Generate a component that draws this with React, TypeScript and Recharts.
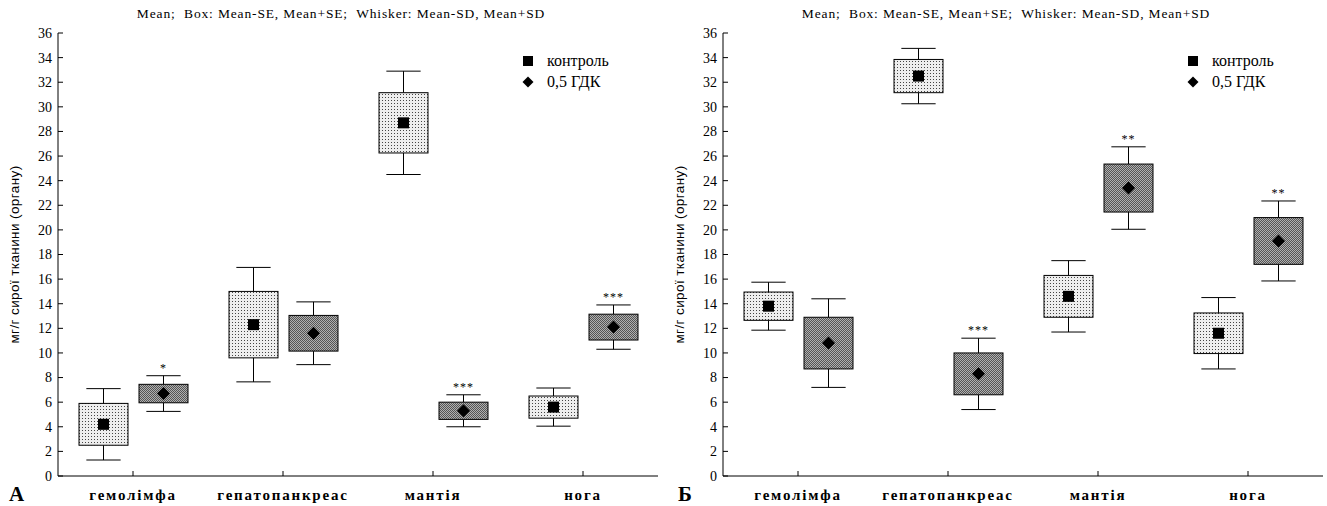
import React from "react";
import { ComposedChart, Bar, XAxis, YAxis, Legend } from "recharts";

const SERIF = "'Liberation Serif', 'Times New Roman', serif";
const SANS = "'Liberation Sans', Arial, sans-serif";

const categories = ["гемолімфа", "гепатопанкреас", "мантія", "нога"];
const yTicks = [0, 2, 4, 6, 8, 10, 12, 14, 16, 18, 20, 22, 24, 26, 28, 30, 32, 34, 36];
const seriesNames = ["контроль", "0,5 ГДК"];

// panel А
const aControlMean = [4.2, 12.3, 28.7, 5.6];
const aControlSE = [1.7, 2.7, 2.45, 0.9];
const aControlSD = [2.9, 4.65, 4.2, 1.55];
const aDoseMean = [6.7, 11.6, 5.3, 12.1];
const aDoseSE = [0.75, 1.45, 0.7, 1.05];
const aDoseSD = [1.45, 2.55, 1.3, 1.8];
const aDoseMarks = ["*", "", "***", "***"];

// panel Б
const bControlMean = [13.8, 32.5, 14.6, 11.6];
const bControlSE = [1.15, 1.35, 1.7, 1.65];
const bControlSD = [1.95, 2.25, 2.9, 2.9];
const bDoseMean = [10.8, 8.3, 23.4, 19.1];
const bDoseSE = [2.1, 1.7, 1.95, 1.9];
const bDoseSD = [3.6, 2.9, 3.35, 3.25];
const bDoseMarks = ["", "***", "**", "**"];

const TITLE = "Mean;  Box: Mean-SE, Mean+SE;  Whisker: Mean-SD, Mean+SD";

function buildRows(cm: number[], cse: number[], csd: number[], dm: number[], dse: number[], dsd: number[], marks: string[]) {
  return categories.map((cat, i) => ({
    cat,
    control: [cm[i] - cse[i], cm[i] + cse[i]],
    dose: [dm[i] - dse[i], dm[i] + dse[i]],
    controlMean: cm[i],
    controlSE: cse[i],
    controlSD: csd[i],
    doseMean: dm[i],
    doseSE: dse[i],
    doseSD: dsd[i],
    doseMark: marks[i],
  }));
}

const rowsA = buildRows(aControlMean, aControlSE, aControlSD, aDoseMean, aDoseSE, aDoseSD, aDoseMarks);
const rowsB = buildRows(bControlMean, bControlSE, bControlSD, bDoseMean, bDoseSE, bDoseSD, bDoseMarks);

// box = mean±SE from the bar scale, whiskers and mean placed on the same scale
const makeBoxShape = (kind: "control" | "dose", fillId: string) => (props: any) => {
  const { x, y, width, height, payload } = props;
  if (!payload) return null;
  const mean = payload[kind + "Mean"];
  const se = payload[kind + "SE"];
  const sd = payload[kind + "SD"];
  const top = Math.min(y, y + height);
  const h = Math.abs(height);
  const hi = mean + se;
  const k = h / (2 * se);
  const py = (v: number) => top + (hi - v) * k;
  const cx = x + width / 2;
  const capW = width * 0.7;
  const yTop = py(mean + sd);
  const yBot = py(mean - sd);
  const ym = py(mean);
  const mark = kind === "dose" ? payload.doseMark : "";
  return (
    <g>
      <line x1={cx} x2={cx} y1={yTop} y2={top} stroke="#000" />
      <line x1={cx} x2={cx} y1={top + h} y2={yBot} stroke="#000" />
      <line x1={cx - capW / 2} x2={cx + capW / 2} y1={yTop} y2={yTop} stroke="#000" />
      <line x1={cx - capW / 2} x2={cx + capW / 2} y1={yBot} y2={yBot} stroke="#000" />
      <rect x={x} y={top} width={width} height={h} fill={`url(#${fillId})`} stroke="#000" strokeWidth={1} />
      {kind === "control" ? (
        <rect x={cx - 5.5} y={ym - 5.5} width={11} height={11} fill="#000" />
      ) : (
        <polygon points={`${cx},${ym - 6.5} ${cx + 6.5},${ym} ${cx},${ym + 6.5} ${cx - 6.5},${ym}`} fill="#000" />
      )}
      {mark ? (
        <text x={cx} y={yTop - 4} textAnchor="middle" fontFamily={SERIF} fontSize={12} letterSpacing={1} fill="#000">
          {mark}
        </text>
      ) : null}
    </g>
  );
};

function BottomTick(props: any) {
  const { x, y, payload } = props;
  return (
    <g>
      <line x1={x} x2={x} y1={y} y2={y - 5} stroke="#000" />
      <text x={x} y={y + 24} textAnchor="middle" fontFamily={SERIF} fontWeight="bold" fontSize={15} letterSpacing={1.8} fill="#000">
        {payload.value}
      </text>
    </g>
  );
}

function TopTick(props: any) {
  const { x, y } = props;
  return <line x1={x} x2={x} y1={y} y2={y + 5} stroke="#000" />;
}

function LeftTick(props: any) {
  const { x, y, payload } = props;
  return (
    <g>
      <line x1={x} x2={x + 5} y1={y} y2={y} stroke="#000" />
      <text x={x - 6} y={y} dy="0.35em" textAnchor="end" fontFamily={SERIF} fontSize={14} fill="#000">
        {payload.value}
      </text>
    </g>
  );
}

function RightTick(props: any) {
  const { x, y } = props;
  return <line x1={x} x2={x - 5} y1={y} y2={y} stroke="#000" />;
}

function renderLegend(props: any) {
  const items = [...(props.payload || [])].sort(
    (a: any, b: any) => seriesNames.indexOf(a.value) - seriesNames.indexOf(b.value)
  );
  return (
    <div style={{ fontFamily: SERIF, fontSize: 16, color: "#000" }}>
      {items.map((e: any, i: number) => (
        <div key={i} style={{ display: "flex", alignItems: "center", height: 21 }}>
          <svg width={12} height={12} style={{ marginRight: 13 }}>
            {e.value === seriesNames[0] ? (
              <rect x={1} y={1} width={10} height={10} fill="#000" />
            ) : (
              <polygon points="6,0.5 11.5,6 6,11.5 0.5,6" fill="#000" />
            )}
          </svg>
          <span>{e.value}</span>
        </div>
      ))}
    </div>
  );
}

function Panel({ rows, id, width, right }: { rows: any[]; id: string; width: number; right: number }) {
  return (
    <ComposedChart
      width={width}
      height={506}
      data={rows}
      margin={{ top: 33, right, bottom: 0, left: 0 }}
      barSize={49}
      barGap={11}
    >
      <defs>
        <pattern id={`${id}-light`} width={3} height={3} patternUnits="userSpaceOnUse">
          <rect width={3} height={3} fill="#eeeeee" />
          <rect x={1} y={1} width={1} height={1} fill="#444" />
        </pattern>
        <pattern id={`${id}-dark`} width={2} height={2} patternUnits="userSpaceOnUse">
          <rect width={2} height={2} fill="#b0b0b0" />
          <rect x={0} y={0} width={1} height={1} fill="#555" />
          <rect x={1} y={1} width={1} height={1} fill="#555" />
        </pattern>
      </defs>
      <XAxis
        dataKey="cat"
        xAxisId={0}
        height={30}
        interval={0}
        axisLine={{ stroke: "#000" }}
        tickLine={false}
        tickSize={0}
        tickMargin={0}
        tick={<BottomTick />}
      />
      <XAxis
        dataKey="cat"
        xAxisId="top"
        orientation="top"
        height={0}
        interval={0}
        axisLine={{ stroke: "#000" }}
        tickLine={false}
        tickSize={0}
        tickMargin={0}
        tick={<TopTick />}
      />
      <YAxis
        yAxisId={0}
        type="number"
        domain={[0, 36]}
        ticks={yTicks}
        interval={0}
        width={58}
        axisLine={{ stroke: "#000" }}
        tickLine={false}
        tickSize={0}
        tickMargin={0}
        tick={<LeftTick />}
        label={{
          value: "мг/г сирої тканини (органу)",
          angle: -90,
          position: "insideLeft",
          offset: 14,
          style: { textAnchor: "middle", fontFamily: SANS, fontSize: 13.5, letterSpacing: 0.4, fill: "#000" },
        }}
      />
      <YAxis
        yAxisId="right"
        orientation="right"
        type="number"
        domain={[0, 36]}
        ticks={yTicks}
        interval={0}
        width={0}
        axisLine={{ stroke: "#000" }}
        tickLine={false}
        tickSize={0}
        tickMargin={0}
        tick={<RightTick />}
      />
      <Legend
        layout="vertical"
        align="center"
        verticalAlign="middle"
        wrapperStyle={{ left: 522, top: 50, width: 140 }}
        content={renderLegend}
      />
      <Bar dataKey="control" name={seriesNames[0]} fill="#eeeeee" isAnimationActive={false} shape={makeBoxShape("control", `${id}-light`)} />
      <Bar dataKey="dose" name={seriesNames[1]} fill="#888888" isAnimationActive={false} shape={makeBoxShape("dose", `${id}-dark`)} />
    </ComposedChart>
  );
}

const titleStyle: React.CSSProperties = {
  position: "absolute",
  top: 6,
  transform: "translateX(-50%)",
  whiteSpace: "pre",
  fontFamily: SERIF,
  fontSize: 13.5,
  letterSpacing: 0.85,
  color: "#000",
};

export default function App() {
  return (
    <div style={{ position: "absolute", left: 0, top: 0, width: 1327, height: 506, background: "#fff", overflow: "hidden" }}>
      <div style={{ position: "absolute", left: 0, top: 0 }}>
        <Panel rows={rowsA} id="pa" width={666} right={8} />
      </div>
      <div style={{ position: "absolute", left: 665, top: 0 }}>
        <Panel rows={rowsB} id="pb" width={662} right={4} />
      </div>
      <div style={{ ...titleStyle, left: 341 }}>{TITLE}</div>
      <div style={{ ...titleStyle, left: 1006 }}>{TITLE}</div>
      <div style={{ position: "absolute", left: 9, top: 482, fontFamily: SERIF, fontWeight: "bold", fontSize: 21, color: "#000" }}>А</div>
      <div style={{ position: "absolute", left: 678, top: 482, fontFamily: SERIF, fontWeight: "bold", fontSize: 21, color: "#000" }}>Б</div>
    </div>
  );
}
